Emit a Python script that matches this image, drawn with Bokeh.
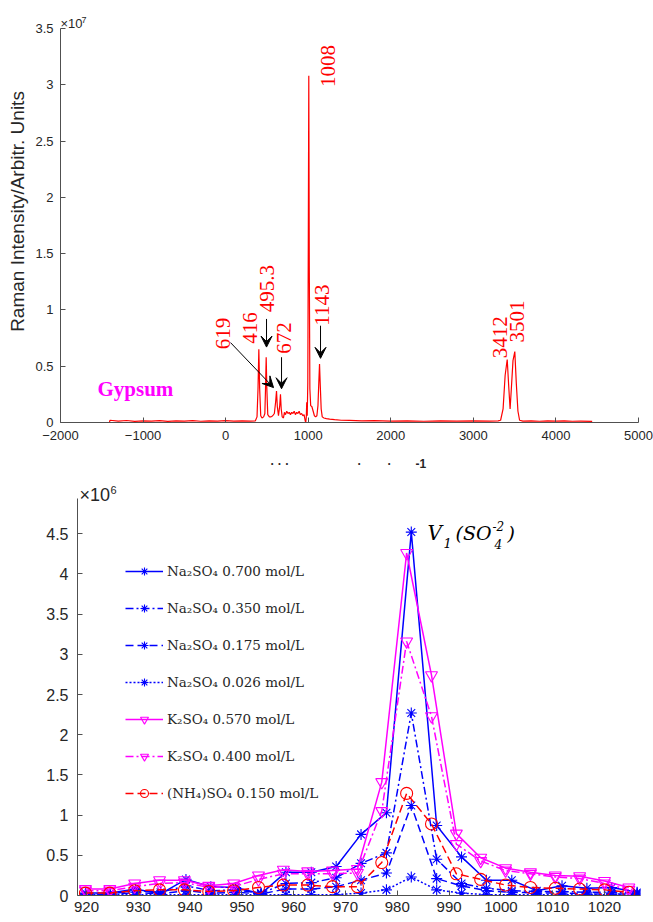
import math
from bokeh.plotting import figure
from bokeh.models import Range1d, FixedTicker, Label, Arrow, VeeHead, Legend, LegendItem
from bokeh.embed import file_html
from bokeh.resources import INLINE

# ---------------- top chart data (x: wavenumber, y: intensity x1e7) ----------------
x_spec = [-1407, -1400, -1300, -1200, -1100, -1000, -900, -800, -700, -600, -500, -400, -300, -200,
          -100, 0, 100, 200, 300, 360, 380, 392, 402, 412, 425, 440, 460, 475, 483, 491, 499, 510,
          530, 550, 570, 590, 605, 616, 626, 640, 655, 664, 673, 685, 700, 712, 725, 740, 755, 770,
          785, 800, 815, 830, 845, 860, 875, 890, 905, 920, 935, 950, 962, 970, 977, 982, 988, 995,
          1001, 1007, 1013, 1020, 1030, 1045, 1060, 1075, 1090, 1105, 1118, 1128, 1137, 1146, 1157,
          1170, 1190, 1220, 1260, 1320, 1400, 1500, 1650, 1800, 2000, 2200, 2400, 2600, 2800, 3000,
          3200, 3300, 3330, 3360, 3385, 3410, 3430, 3445, 3460, 3480, 3502, 3520, 3540, 3560, 3600,
          3700, 3800, 3900, 4000, 4100, 4200, 4300, 4439]
y_spec = [0.005, 0.02, 0.012, 0.018, 0.01, 0.015, 0.012, 0.016, 0.01, 0.014, 0.012, 0.016, 0.011, 0.015,
          0.012, 0.016, 0.012, 0.015, 0.013, 0.015, 0.05, 0.30, 0.65, 0.30, 0.06, 0.04, 0.05, 0.08, 0.30, 0.58, 0.30, 0.07,
          0.05, 0.05, 0.06, 0.08, 0.18, 0.28, 0.14, 0.06, 0.15, 0.25, 0.12, 0.05, 0.04, 0.09, 0.07, 0.10, 0.08, 0.09,
          0.07, 0.09, 0.08, 0.10, 0.07, 0.09, 0.08, 0.10, 0.07, 0.08, 0.06, 0.07, 0.02, 0.0, 0.05, 0.18, 0.06, 0.35,
          1.6, 3.08, 1.4, 0.30, 0.15, 0.14, 0.10, 0.06, 0.05, 0.06, 0.15, 0.35, 0.52, 0.33, 0.12,
          0.05, 0.04, 0.035, 0.03, 0.025, 0.02, 0.018, 0.014, 0.016, 0.012, 0.015, 0.011, 0.014, 0.012, 0.015,
          0.012, 0.015, 0.02, 0.12, 0.42, 0.56, 0.30, 0.12, 0.30, 0.55, 0.63, 0.35, 0.10, 0.02, 0.012,
          0.015, 0.011, 0.014, 0.012, 0.015, 0.011, 0.013, 0.01]

peak_labels = ["619", "416", "495.3", "672", "1008", "1143", "3412", "3501"]
peak_label_x = [-32, 301, 495, 701, 1234, 1167, 3317, 3529]
peak_label_y = [0.65, 0.70, 0.98, 0.61, 2.98, 0.86, 0.57, 0.71]

arrow_x0 = [59, 495, 677, 1149]
arrow_y0 = [0.71, 0.92, 0.58, 0.86]
arrow_x1 = [580, 495, 677, 1149]
arrow_y1 = [0.31, 0.67, 0.30, 0.57]

top_xticks = [-2000, -1000, 0, 1000, 2000, 3000, 4000, 5000]
top_yticks = [0, 0.5, 1, 1.5, 2, 2.5, 3, 3.5]
top_ytick_labels = ["0", "0.5", "1", "1.5", "2", "2.5", "3", "3.5"]

# ---------------- bottom chart data (x: wavenumber, y: intensity x1e6) ----------------
x_na = [919.8, 924.6, 929.5, 934.3, 939.2, 944.0, 948.8, 953.7, 958.5, 963.4, 968.2, 973.0,
        977.9, 982.7, 987.6, 992.4, 997.2, 1002.1, 1006.9, 1011.8, 1016.6, 1021.4, 1026.3]
x_k = [919.8, 924.5, 929.3, 934.1, 938.9, 943.6, 948.4, 953.2, 958.0, 962.7, 967.5, 972.3,
       977.0, 981.8, 986.6, 991.4, 996.1, 1000.9, 1005.7, 1010.5, 1015.2, 1020.0, 1024.7]

na_700 = [0.03, 0.03, 0.08, 0.02, 0.20, 0.11, 0.10, 0.02, 0.29, 0.29, 0.36, 0.76, 1.03, 4.52,
          0.87, 0.48, 0.19, 0.19, 0.06, 0.12, 0.09, 0.10, 0.04]
na_350 = [0.02, 0.02, 0.06, 0.04, 0.12, 0.06, 0.07, 0.03, 0.15, 0.16, 0.22, 0.40, 0.53, 2.27,
          0.45, 0.15, 0.09, 0.06, 0.05, 0.05, 0.04, 0.04, 0.03]
na_175 = [0.01, 0.01, 0.04, 0.02, 0.06, 0.03, 0.04, 0.02, 0.08, 0.08, 0.11, 0.19, 0.28, 1.12,
          0.21, 0.12, 0.06, 0.04, 0.03, 0.03, 0.02, 0.02, 0.02]
na_026 = [0.01, 0.01, 0.01, 0.01, 0.01, 0.01, 0.01, 0.01, 0.01, 0.01, 0.01, 0.03, 0.07, 0.23,
          0.07, 0.03, 0.01, 0.01, 0.01, 0.01, 0.01, 0.01, 0.01]
k_570 = [0.08, 0.08, 0.15, 0.19, 0.19, 0.12, 0.15, 0.25, 0.32, 0.30, 0.31, 0.33, 1.41, 4.26,
         2.74, 0.77, 0.47, 0.34, 0.29, 0.25, 0.24, 0.18, 0.10]
k_400 = [0.06, 0.06, 0.11, 0.15, 0.16, 0.10, 0.11, 0.20, 0.27, 0.27, 0.27, 0.28, 1.05, 3.16,
         2.23, 0.64, 0.43, 0.31, 0.27, 0.23, 0.21, 0.15, 0.07]
nh4_150 = [0.03, 0.03, 0.06, 0.07, 0.07, 0.05, 0.06, 0.10, 0.13, 0.13, 0.11, 0.11, 0.41, 1.27,
           0.89, 0.27, 0.20, 0.13, 0.10, 0.09, 0.08, 0.07, 0.04]

series_labels = ["Na₂SO₄ 0.700 mol/L", "Na₂SO₄ 0.350 mol/L", "Na₂SO₄ 0.175 mol/L",
                 "Na₂SO₄ 0.026 mol/L", "K₂SO₄ 0.570 mol/L", "K₂SO₄ 0.400 mol/L",
                 "(NH₄)SO₄ 0.150 mol/L"]

bot_xticks = [920, 930, 940, 950, 960, 970, 980, 990, 1000, 1010, 1020]
bot_yticks = [0, 0.5, 1, 1.5, 2, 2.5, 3, 3.5, 4, 4.5]
bot_ytick_labels = ["0", "0.5", "1", "1.5", "2", "2.5", "3", "3.5", "4", "4.5"]

AX = "#505050"
TXT = "#262626"
BLUE = "#0000FF"
MAG = "#FF00FF"
RED = "#FF0000"


def style(p, fs, standoff):
    p.outline_line_color = None
    p.grid.visible = False
    p.background_fill_color = "white"
    p.border_fill_color = "white"
    for ax in (p.xaxis[0], p.yaxis[0]):
        ax.axis_line_color = AX
        ax.major_tick_line_color = AX
        ax.major_tick_in = 5
        ax.major_tick_out = 0
        ax.minor_tick_line_color = None
        ax.major_label_text_font = "Liberation Sans"
        ax.major_label_text_font_size = fs
        ax.major_label_text_color = TXT
        ax.major_label_standoff = standoff


# ---------------- top figure (frame: x 60..638, y 0..422; axis spans 28..422) ----------------
p1 = figure(width=653, height=452, x_range=Range1d(-2000, 5000), y_range=Range1d(0, 3.749),
            output_backend="svg", toolbar_location=None,
            min_border_left=60, min_border_right=15, min_border_top=0, min_border_bottom=30)
style(p1, "13px", 7)
p1.xaxis.major_label_standoff = 8
p1.yaxis.bounds = (0, 3.5)
p1.xaxis.ticker = FixedTicker(ticks=top_xticks)
p1.yaxis.ticker = FixedTicker(ticks=top_yticks)
p1.yaxis.major_label_overrides = {t: s for t, s in zip(top_yticks, top_ytick_labels)}
p1.yaxis.axis_label = "Raman Intensity/Arbitr. Units"
p1.yaxis.axis_label_text_font = "Liberation Sans"
p1.yaxis.axis_label_text_font_size = "19px"
p1.yaxis.axis_label_text_font_style = "normal"
p1.yaxis.axis_label_text_color = TXT
p1.yaxis.axis_label_standoff = 4

p1.line(x_spec, y_spec, color=RED, line_width=1.2)

for t, x, y in zip(peak_labels, peak_label_x, peak_label_y):
    p1.add_layout(Label(x=x, y=y, text=t, angle=math.pi / 2, text_align="left",
                        text_baseline="middle", text_font="Liberation Serif",
                        text_font_size="21px", text_color=RED))

for x0, y0, x1, y1 in zip(arrow_x0, arrow_y0, arrow_x1, arrow_y1):
    p1.add_layout(Arrow(x_start=x0, y_start=y0, x_end=x1, y_end=y1, line_color="black",
                        line_width=1,
                        end=VeeHead(size=11, fill_color="black", line_color="black")))

p1.add_layout(Label(x=-1552, y=0.302, text="Gypsum", text_font="Liberation Serif",
                    text_font_style="bold", text_font_size="21px", text_color=MAG,
                    text_baseline="alphabetic"))
p1.add_layout(Label(x=-2000, y=3.544, text="×10", text_font="Liberation Sans",
                    text_font_size="13px", text_color=TXT, text_baseline="alphabetic"))
p1.add_layout(Label(x=-1746, y=3.58, text="7", text_font="Liberation Sans",
                    text_font_size="9px", text_color=TXT, text_baseline="alphabetic"))

# ---------------- bottom figure (frame: x 77..640, y 452..895 page; axis spans 498..895) ----------------
p2 = figure(width=653, height=468, x_range=Range1d(918.26, 1026.95), y_range=Range1d(0, 5.51),
            output_backend="svg", toolbar_location=None,
            min_border_left=77, min_border_right=13, min_border_top=0, min_border_bottom=25)
style(p2, "15px", 6)
p2.yaxis.major_label_standoff = 9
p2.yaxis.major_label_text_font_size = "16px"
p2.yaxis.bounds = (0, 4.94)
p2.xaxis.ticker = FixedTicker(ticks=bot_xticks)
p2.yaxis.ticker = FixedTicker(ticks=bot_yticks)
p2.yaxis.major_label_overrides = {t: s for t, s in zip(bot_yticks, bot_ytick_labels)}

specs = [
    (x_na, na_700, BLUE, "solid", "asterisk"),
    (x_na, na_350, BLUE, "8 3 2 3", "asterisk"),
    (x_na, na_175, BLUE, "8 4", "asterisk"),
    (x_na, na_026, BLUE, "2 2", "asterisk"),
    (x_k, k_570, MAG, "solid", "inverted_triangle"),
    (x_k, k_400, MAG, "8 3 2 3", "inverted_triangle"),
    (x_k, nh4_150, RED, "8 4", "circle"),
]
items = []
for (xs, ys, col, dash, mk), lab in zip(specs, series_labels):
    rl = p2.line(xs, ys, color=col, line_width=1.5, line_dash=dash)
    sz = 11 if mk == "asterisk" else 12
    rs = p2.scatter(xs, ys, marker=mk, size=sz, line_color=col, fill_color=None, line_width=1.1)
    items.append(LegendItem(label=lab, renderers=[rl, rs]))

legend = Legend(items=items, location=(48, 92), padding=0, margin=0, spacing=17,
                glyph_width=38, glyph_height=20, label_height=20, label_standoff=4,
                label_text_font="DejaVu Serif", label_text_font_size="13.5px",
                label_text_color=TXT, border_line_color=None, background_fill_alpha=0)
p2.add_layout(legend, "center")


def sx(px):
    return 918.26 + (px - 77) / 5.18


def sy(py):
    return (895 - py) / 80.4


# V1 (SO4^-2) annotation
v_parts = [("V", 427, 532, "20px"), ("1", 443, 542, "13px"), ("(SO", 455, 532, "19px"),
           ("-2", 492, 525, "12px"), ("4", 494, 543, "12px"), (")", 507, 532, "19px")]
for t, px, py, fs in v_parts:
    p2.add_layout(Label(x=sx(px), y=sy(py), text=t, text_font="DejaVu Serif",
                        text_font_style="italic", text_font_size=fs, text_color="black",
                        text_baseline="alphabetic"))

p2.add_layout(Label(x=sx(79), y=sy(494), text="×10", text_font="Liberation Sans",
                    text_font_size="18px", text_color=TXT, text_baseline="alphabetic"))
p2.add_layout(Label(x=sx(110), y=sy(489), text="6", text_font="Liberation Sans",
                    text_font_size="11px", text_color=TXT, text_baseline="alphabetic"))

# visible remnants of the upper chart's x label
for t, px, py, fs in [("· · ·", 270, 463, "12px"), ("·", 357, 463, "12px"),
                      ("·", 387, 463, "12px"), ("-1", 415, 463, "12px")]:
    p2.add_layout(Label(x=sx(px), y=sy(py), text=t, text_font="Liberation Sans",
                        text_font_style="bold", text_font_size=fs, text_color=TXT,
                        text_baseline="alphabetic"))

# two independent roots stacked vertically (no frame alignment between them)
open("out.html", "w").write(file_html([p1, p2], INLINE))
